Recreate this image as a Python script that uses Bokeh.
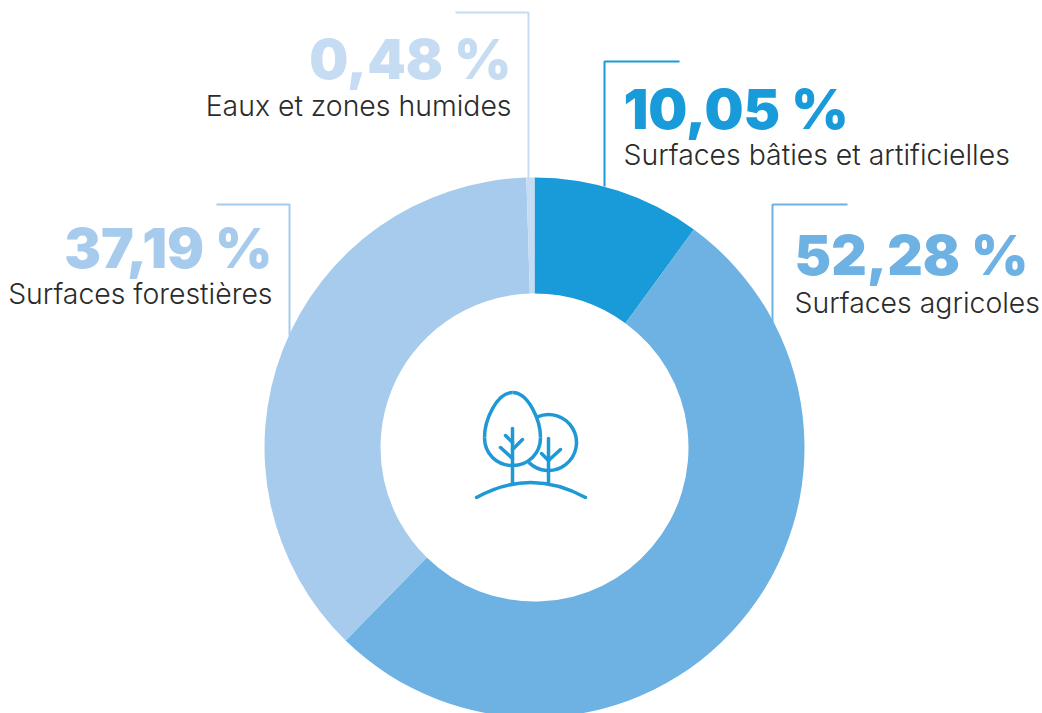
from math import pi
from bokeh.plotting import figure
from bokeh.models import Range1d
from bokeh.core.properties import value
from bokeh.embed import file_html
from bokeh.resources import INLINE

labels = ["Surfaces bâties et artificielles", "Surfaces agricoles", "Surfaces forestières", "Eaux et zones humides"]
values = [10.05, 52.28, 37.19, 0.48]
pct_text = ["10,05 %", "52,28 %", "37,19 %", "0,48 %"]
colors = ["#1A9BD9", "#6EB1E3", "#A6CBEC", "#C5DCF3"]

text_x = [623, 794, 272, 511]
text_align = ["left", "left", "right", "right"]
pct_y = [108, 254, 247, 58]
label_y = [154, 302, 293, 105]
leader_xs = [[679, 604, 604], [847, 772, 772], [216, 289, 289], [455, 528, 528]]
leader_ys = [[61, 61, 186], [204, 204, 322], [204, 204, 335], [12, 12, 178]]

p = figure(width=1042, height=713, output_backend="svg", toolbar_location=None,
           x_range=Range1d(0, 1042), y_range=Range1d(713, 0), min_border=0,
           outline_line_color=None)
p.xaxis.visible = False
p.yaxis.visible = False
p.grid.visible = False

cx, cy = 534, 447
total = sum(values)
ang = pi / 2
for v, c in zip(values, colors):
    nxt = ang - v / total * 2 * pi
    p.annular_wedge(x=cx, y=cy, inner_radius=154, outer_radius=270,
                    start_angle=nxt, end_angle=ang, direction="anticlock",
                    fill_color=c, line_color=None)
    ang = nxt

for xs, ys, c in zip(leader_xs, leader_ys, colors):
    p.line(xs, ys, line_color=c, line_width=2)

for i in range(4):
    p.text([text_x[i]], [pct_y[i]], text=[pct_text[i]], text_color=colors[i],
           text_font=value("Inter Black"), text_font_size="55px",
           text_align=text_align[i], text_baseline="alphabetic")
    p.text([text_x[i]], [label_y[i]], text=[labels[i]], text_color="#2B2B2B",
           text_font=value("Inter Light"), text_font_size="28.4px",
           text_align=text_align[i], text_baseline="alphabetic")

# icon
icon = "#1F98D6"
p.bezier(x0=[512, 540], y0=[392, 437], x1=[540, 512], y1=[437, 465],
         cx0=[528, 540], cy0=[392, 453], cx1=[540, 528], cy1=[420, 465],
         line_color=icon, line_width=3.5)
p.bezier(x0=[512, 484], y0=[392, 437], x1=[484, 512], y1=[437, 465],
         cx0=[496, 484], cy0=[392, 453], cx1=[484, 496], cy1=[420, 465],
         line_color=icon, line_width=3.5)
p.arc(x=548, y=442, radius=28, start_angle=1.98, end_angle=-2.36, direction="clock",
      line_color=icon, line_width=3.5)
p.multi_line(xs=[[512, 512], [500, 512], [522, 512], [505, 512], [548, 548], [541, 548], [560, 548]],
             ys=[[428, 483], [447, 458], [439, 449], [435, 442], [438, 482], [453, 460], [449, 460]],
             line_color=icon, line_width=3.5, line_cap="round")
p.quadratic(x0=[476], y0=[497], x1=[585], y1=[497], cx=[530], cy=[467],
            line_color=icon, line_width=3.5, line_cap="round")

open("out.html", "w").write(file_html(p, INLINE))
